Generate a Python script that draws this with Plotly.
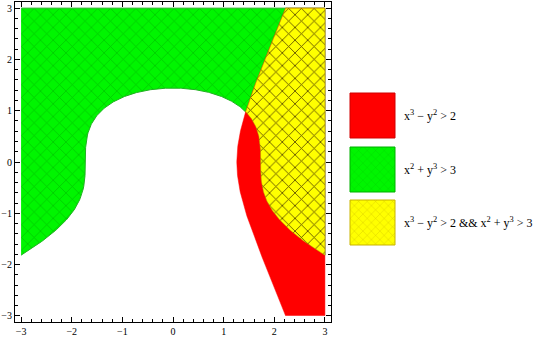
import numpy as np
import plotly.graph_objects as go

# ---- data: the two inequalities on the square [-3, 3] x [-3, 3] ----
x_range = [-3.0, 3.0]
y_range = [-3.0, 3.0]
const_a = 2.0   # x^3 - y^2 > 2
const_b = 3.0   # x^2 + y^3 > 3
labels = [
    "x<sup>3</sup> − y<sup>2</sup> > 2",
    "x<sup>2</sup> + y<sup>3</sup> > 3",
    "x<sup>3</sup> − y<sup>2</sup> > 2 &amp;&amp; x<sup>2</sup> + y<sup>3</sup> > 3",
]


def xa(y):
    return np.cbrt(const_a + y ** 2)


def yb(x):
    return np.cbrt(const_b - x ** 2)


# intersection of the two boundary curves (bisection on y)
lo, hi = 0.0, 2.0
for _ in range(80):
    mid = 0.5 * (lo + hi)
    if xa(mid) ** 2 + mid ** 3 - const_b < 0:
        lo = mid
    else:
        hi = mid
yP = 0.5 * (lo + hi)
xP = float(xa(yP))

x0, x1 = x_range
y0, y1 = y_range
yy = np.linspace(y0, y1, 500)
xx = np.linspace(x0, x1, 500)

# region A (red)
ax_ = list(xa(yy)) + [x1, x1]
ay_ = list(yy) + [y1, y0]
# region B (green)
bx_ = list(xx) + [x1, x0]
by_ = list(yb(xx)) + [y1, y1]
# intersection (yellow)
ys1 = np.linspace(yP, y1, 300)
xs2 = np.linspace(x1, xP, 300)
cx_ = list(xa(ys1)) + [x1, x1] + list(xs2)
cy_ = list(ys1) + [y1, float(yb(x1))] + list(yb(xs2))

RED = "#ff0000"
GREEN = "#00f500"
YELLOW = "#ffff00"

fig = go.Figure()
fig.add_trace(go.Scatter(
    x=bx_, y=by_, fill="toself", mode="lines",
    line=dict(color="#22b022", width=1),
    fillcolor=GREEN,
    fillpattern=dict(shape="x", bgcolor=GREEN, fgcolor="#00c400",
                     size=9, solidity=0.15, fillmode="replace"),
    hoverinfo="skip", showlegend=False))
fig.add_trace(go.Scatter(
    x=ax_, y=ay_, fill="toself", mode="lines",
    line=dict(color=RED, width=0.5), fillcolor=RED,
    hoverinfo="skip", showlegend=False))
fig.add_trace(go.Scatter(
    x=cx_, y=cy_, fill="toself", mode="lines",
    line=dict(color="#b0a000", width=0.5),
    fillcolor=YELLOW,
    fillpattern=dict(shape="x", bgcolor=YELLOW, fgcolor="#5a4a00",
                     size=9, solidity=0.18, fillmode="replace"),
    hoverinfo="skip", showlegend=False))

# ---- custom legend swatches on a hidden second axis (pixel units) ----
W, H = 540, 338
ML, MR, MT, MB = 15, 0, 2, 16
pw, ph = W - ML - MR, H - MT - MB


def px_x(p):
    return (p - ML) / pw


def px_y(p):
    return (H - MB - p) / ph


sw_left, sw_right = 350, 395
sw_tops = [93, 147, 200]
sw_size = 45
sw_fill = [RED, GREEN, YELLOW]
sw_fg = [None, "#00cc00", "#c8b400"]
sw_edge = ["#d00000", "#00b000", "#c8b400"]
for i in range(3):
    t = sw_tops[i]
    kw = dict(x=[sw_left, sw_right, sw_right, sw_left, sw_left],
              y=[t, t, t + sw_size, t + sw_size, t],
              fill="toself", mode="lines",
              line=dict(color=sw_edge[i], width=1),
              fillcolor=sw_fill[i], xaxis="x2", yaxis="y2",
              hoverinfo="skip", showlegend=False)
    if sw_fg[i]:
        kw["fillpattern"] = dict(shape="x", bgcolor=sw_fill[i], fgcolor=sw_fg[i],
                                 size=6, solidity=0.1, fillmode="replace")
    fig.add_trace(go.Scatter(**kw))
    fig.add_annotation(x=px_x(402), y=px_y(t + sw_size / 2), xref="paper", yref="paper",
                       text=labels[i], showarrow=False, xanchor="left", yanchor="middle",
                       font=dict(family="Liberation Serif", size=12, color="black"))

axis_common = dict(
    range=[-3.12, 3.12], showgrid=False, zeroline=False,
    showline=True, linecolor="black", linewidth=1, mirror="ticks",
    ticks="inside", ticklen=5, tickwidth=1, tickcolor="black",
    tick0=0, dtick=1,
    tickfont=dict(family="Liberation Serif", size=10, color="black"),
    minor=dict(ticks="inside", tick0=0, dtick=0.2, ticklen=3,
               tickwidth=1, tickcolor="black", showgrid=False),
    fixedrange=True,
)

fig.update_layout(
    width=W, height=H,
    margin=dict(l=ML, r=MR, t=MT, b=MB),
    paper_bgcolor="white", plot_bgcolor="rgba(0,0,0,0)",
    showlegend=False,
    xaxis=dict(domain=[0, px_x(331)], **axis_common),
    yaxis=dict(domain=[0, 1], **axis_common),
    xaxis2=dict(domain=[0, 1], range=[ML, W - MR], visible=False,
                anchor="y2", fixedrange=True),
    yaxis2=dict(domain=[0, 1], range=[H - MB, MT], visible=False,
                anchor="x2", fixedrange=True),
)

fig.write_html("out.html")
